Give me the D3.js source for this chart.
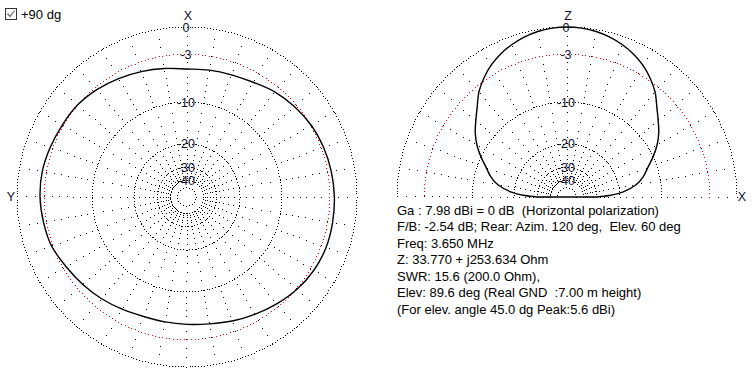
<!DOCTYPE html>
<html>
<head>
<meta charset="utf-8">
<script src="https://cdn.jsdelivr.net/npm/d3@7"></script>
<style>
  html, body { margin: 0; padding: 0; background: #fff; }
  svg { display: block; font-family: "Liberation Sans", Arial, sans-serif; }
  text { white-space: pre; }
</style>
</head>
<body>
<script>
// azimuth pattern (plane X-Y), azimuth counted from X toward Y, dB below peak
const azimuthDeg = [0, 10, 20, 30, 40, 50, 60, 70, 80, 90, 100, 110, 120, 130, 140, 150, 160, 170,
  180, 190, 200, 210, 220, 230, 240, 250, 260, 270, 280, 290, 300, 310, 320, 330, 340, 350];
const azimuthGain = [-4.87, -4.54, -4.15, -3.73, -3.30, -2.97, -2.85, -2.67, -2.50, -2.50, -2.65, -2.85,
  -3.39, -3.83, -4.24, -4.66, -4.98, -5.03, -4.96, -4.76, -4.34, -3.89, -3.39, -2.90, -2.55, -2.38,
  -2.40, -2.45, -2.55, -2.69, -2.91, -3.27, -3.70, -4.28, -4.60, -4.76];

// elevation pattern (plane X-Z), angle from +X over zenith to -X
const elevationDeg = [0, 2, 5, 10, 15, 20, 25, 30, 35, 40, 45, 50, 55, 60, 65, 70, 75, 80, 85, 90,
  95, 100, 105, 110, 115, 120, 125, 130, 135, 140, 145, 150, 155, 160, 165, 170, 175, 178, 180];
const elevationGain = [-29.8, -24.0, -19.1, -15.2, -13.15, -11.7, -10.0, -8.43, -7.16, -6.12, -5.0,
  -3.70, -2.73, -1.92, -1.31, -0.83, -0.46, -0.20, -0.05, 0,
  -0.05, -0.20, -0.46, -0.83, -1.31, -1.92, -2.73, -3.70, -5.0, -6.12, -7.16, -8.43, -10.0,
  -11.7, -13.15, -15.2, -19.1, -24.0, -29.8];

const ringDb = [0, -10, -20, -30, -40, -50];
const redRingDb = -3;
const ringLabelDb = [0, -3, -10, -20, -30, -40];
const ringLabels = ['0', '-3', '-10', '-20', '-30', '-40'];
const spokeDb = d3.range(0, -10, -1).concat(d3.range(-10, -41, -2));

const infoLines = [
  'Ga : 7.98 dBi = 0 dB  (Horizontal polarization)',
  'F/B: -2.54 dB; Rear: Azim. 120 deg,  Elev. 60 deg',
  'Freq: 3.650 MHz',
  'Z: 33.770 + j253.634 Ohm',
  'SWR: 15.6 (200.0 Ohm),',
  'Elev: 89.6 deg (Real GND  :7.00 m height)',
  '(For elev. angle 45.0 dg Peak:5.6 dBi)'
];

const width = 754;
const height = 377;
const R = 170;
const az = {cx: 187, cy: 197};
const el = {cx: 567, cy: 197};

// ARRL log scale: radius shrinks to 0.89 every 2 dB -> power law on linear power ratio
const rScale = d3.scalePow()
  .exponent(-5 * Math.log10(0.89))
  .domain([0, 1])
  .range([0, R]);
const rDb = dB => rScale(Math.pow(10, dB / 10));

const svg = d3.select('body').append('svg')
  .attr('width', width)
  .attr('height', height)
  .attr('viewBox', [0, 0, width, height]);

svg.append('rect').attr('width', width).attr('height', height).attr('fill', '#fff');

function pixel(c, r, deg) {
  const t = deg * Math.PI / 180;
  return [Math.round(c.cx + r * Math.cos(t) - 0.5), Math.round(c.cy - r * Math.sin(t) - 0.5)];
}

function dotLayer(g, dots, color) {
  g.append('g')
    .attr('fill', color)
    .attr('shape-rendering', 'crispEdges')
    .selectAll('rect')
    .data(dots)
    .join('rect')
    .attr('x', d => d[0])
    .attr('y', d => d[1])
    .attr('width', 1)
    .attr('height', 1);
}

function ringDots(c, r, step, half) {
  const n = Math.round(2 * Math.PI * r / step);
  const out = [];
  for (let i = 0; i < n; i++) {
    const deg = i * 360 / n;
    if (half && deg > 180) continue;
    out.push(pixel(c, r, deg));
  }
  return out;
}

function grid(g, c, half) {
  // spokes every 10 deg, dots at dB steps
  const spokes = [];
  d3.range(0, half ? 181 : 360, 10).forEach(a => {
    spokeDb.forEach(dB => spokes.push(pixel(c, rDb(dB), a)));
  });
  dotLayer(g, spokes, '#000');

  let rings = [];
  ringDb.forEach(dB => { rings = rings.concat(ringDots(c, rDb(dB), 3, half)); });
  dotLayer(g, rings, '#000');

  dotLayer(g, ringDots(c, rDb(redRingDb), 3.6, half), '#f00');

  g.append('g')
    .attr('font-size', 12.5)
    .attr('fill', '#101030')
    .attr('text-anchor', 'middle')
    .selectAll('text')
    .data(ringLabelDb)
    .join('text')
    .attr('x', c.cx - 1)
    .attr('y', d => c.cy - rDb(d))
    .attr('dy', '0.36em')
    .text((d, i) => ringLabels[i]);
}

const gAz = svg.append('g');
grid(gAz, az, false);
const gEl = svg.append('g');
grid(gEl, el, true);

// azimuth pattern
const azLine = d3.lineRadial()
  .angle(d => -d[0] * Math.PI / 180)
  .radius(d => rDb(d[1]))
  .curve(d3.curveCatmullRomClosed);

gAz.append('path')
  .attr('transform', `translate(${az.cx},${az.cy})`)
  .attr('fill', 'none')
  .attr('stroke', '#000')
  .attr('stroke-width', 1.4)
  .attr('d', azLine(azimuthDeg.map((a, i) => [a, azimuthGain[i]])));

// elevation pattern
const elLine = d3.lineRadial()
  .angle(d => Math.PI / 2 - d[0] * Math.PI / 180)
  .radius(d => rDb(d[1]))
  .curve(d3.curveCatmullRom);

gEl.append('path')
  .attr('transform', `translate(${el.cx},${el.cy})`)
  .attr('fill', 'none')
  .attr('stroke', '#000')
  .attr('stroke-width', 1.4)
  .attr('d', elLine(elevationDeg.map((a, i) => [a, elevationGain[i]])) + 'Z');

// axis letters
const axisText = [
  {t: 'X', x: az.cx + 1, y: 19.5},
  {t: 'Y', x: 11, y: 201},
  {t: 'Z', x: el.cx + 1, y: 19.5},
  {t: 'X', x: 742, y: 201}
];
svg.append('g')
  .attr('font-size', 12.5)
  .attr('fill', '#101030')
  .attr('text-anchor', 'middle')
  .selectAll('text')
  .data(axisText)
  .join('text')
  .attr('x', d => d.x)
  .attr('y', d => d.y)
  .text(d => d.t);

// checkbox
const cb = svg.append('g');
cb.append('rect')
  .attr('x', 5.5).attr('y', 8.5)
  .attr('width', 11).attr('height', 11)
  .attr('fill', '#fff')
  .attr('stroke', '#333');
cb.append('path')
  .attr('d', 'M7.5,13.5 L10,16.5 L14.5,10.5')
  .attr('fill', 'none')
  .attr('stroke', '#666')
  .attr('stroke-width', 1.2);
cb.append('text')
  .attr('x', 21).attr('y', 18.5)
  .attr('font-size', 13)
  .attr('fill', '#000')
  .text('+90 dg');

// info block
svg.append('g')
  .attr('font-size', 13)
  .attr('fill', '#000')
  .selectAll('text')
  .data(infoLines)
  .join('text')
  .attr('x', 397)
  .attr('y', (d, i) => 215 + i * 16.45)
  .text(d => d);
</script>
</body>
</html>
